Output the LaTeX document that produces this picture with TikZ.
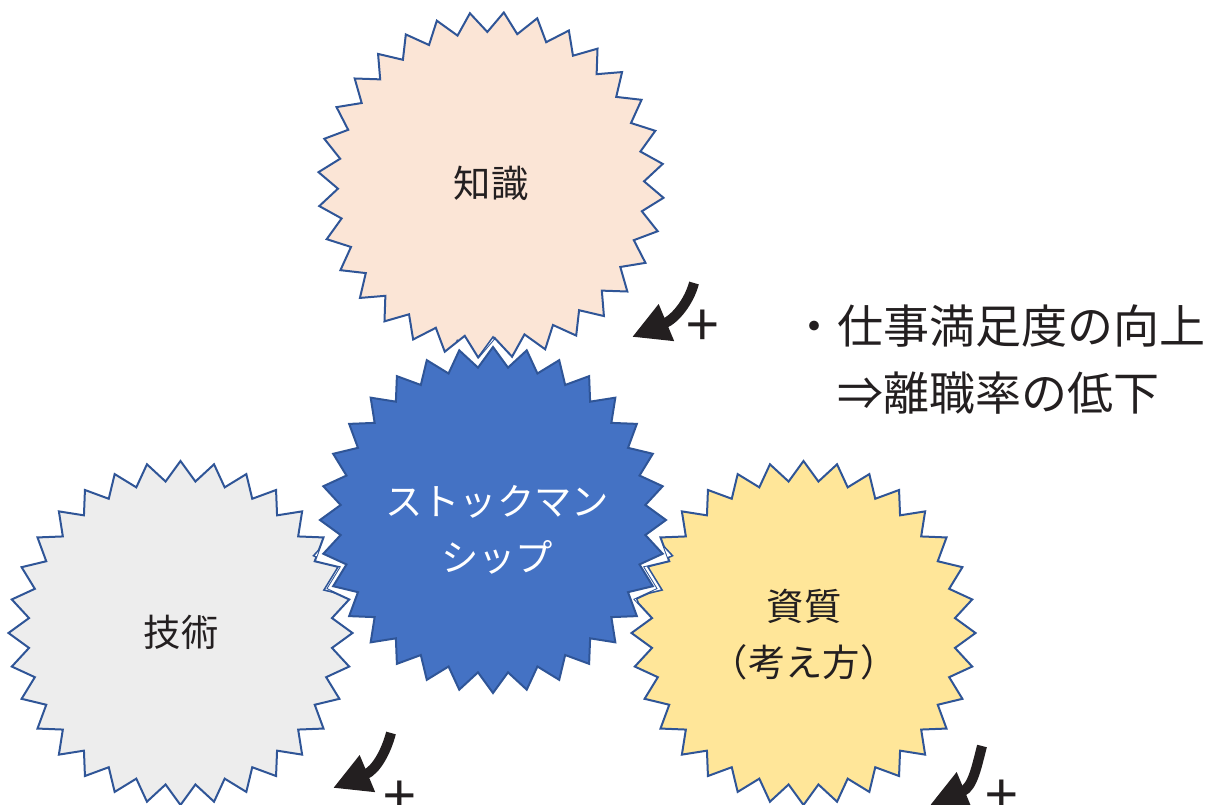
\documentclass[tikz,border=0pt]{standalone}
\usepackage{fontspec}
\setmainfont{Noto Sans CJK JP}
\usetikzlibrary{arrows.meta}
\definecolor{pinkfill}{HTML}{FBE5D6}
\definecolor{grayfill}{HTML}{EDEDED}
\definecolor{yellowfill}{HTML}{FFE699}
\definecolor{bluefill}{HTML}{4472C4}
\definecolor{outl}{HTML}{2F5597}
\definecolor{txt}{HTML}{231F20}
% seal path: centre x, centre y, rotation, outer radius
\newcommand\sealplot[4]{plot[samples at={0,...,63}] ({#1+#4*(1-0.115*mod(\x,2))*cos(\x*5.625+#3)}, {#2-#4*(1-0.115*mod(\x,2))*sin(\x*5.625+#3)}) -- cycle}
\tikzset{
  seal/.style={draw=outl, line width=1.5pt, line join=miter},
  lbl/.style={font=\fontsize{28}{42}\selectfont, text=txt, align=center, inner sep=0pt},
  side/.style={font=\fontsize{34.5}{50}\selectfont, text=txt, inner sep=0pt},
  bigarrow/.style={draw=txt, line width=7.5pt, -{Triangle[length=28pt,width=28pt]}},
  plusmark/.style={font=\fontsize{44}{44}\selectfont, text=txt, inner sep=0pt}
}
\begin{document}
\begin{tikzpicture}[x=0.75pt,y=-0.75pt]
\useasboundingbox (0,0) rectangle (1220,805);
% back stars
\path[seal, fill=pinkfill] \sealplot{491}{185}{7}{173};
\path[seal, fill=grayfill] \sealplot{180.5}{633}{0}{172};
\path[seal, fill=yellowfill] \sealplot{803.5}{633}{0}{172};
% halo of the centre star where it overlaps the others
\begin{scope}
  \clip \sealplot{491}{185}{7}{173} \sealplot{180.5}{633}{0}{172} \sealplot{803.5}{633}{0}{172};
  \draw[outl, line width=10pt, line join=miter] \sealplot{493}{520}{0}{173};
  \draw[white, line width=7.5pt, line join=miter] \sealplot{493}{520}{0}{173};
\end{scope}
% centre star
\path[seal, fill=bluefill] \sealplot{493}{520}{0}{173};
% labels
\node[lbl] (chishiki) at (491,183) {知識};
\node[lbl, text=white] (stock) at (497,530) {ストックマン\\シップ};
\node[lbl] (gijutsu) at (181,632) {技術};
\node[lbl] (shishitsu) at (804,635) {資質\\（考え方）};
\node[side, anchor=base west] (line1) at (791,343.5) {・仕事満足度の向上};
\node[side, anchor=base west] (line2) at (837,410.5) {⇒離職率の低下};
% arrows
\coordinate (a1s) at (694,283);
\coordinate (a1e) at (632,337);
\coordinate (a2s) at (391,733);
\coordinate (a2e) at (333,788);
\coordinate (a3s) at (982,746);
\coordinate (a3e) at (930,805);
\draw[bigarrow] (a1s) .. controls +(-5,19) and +(43,-18) .. (a1e);
\draw[bigarrow] (a2s) .. controls +(-5,19) and +(43,-18) .. (a2e);
\draw[bigarrow] (a3s) .. controls +(-5,19) and +(43,-18) .. (a3e);
\node[plusmark] (p1) at (703,328) {+};
\node[plusmark] (p2) at (400,799) {+};
\node[plusmark] (p3) at (1002,798) {+};
\end{tikzpicture}
\end{document}
